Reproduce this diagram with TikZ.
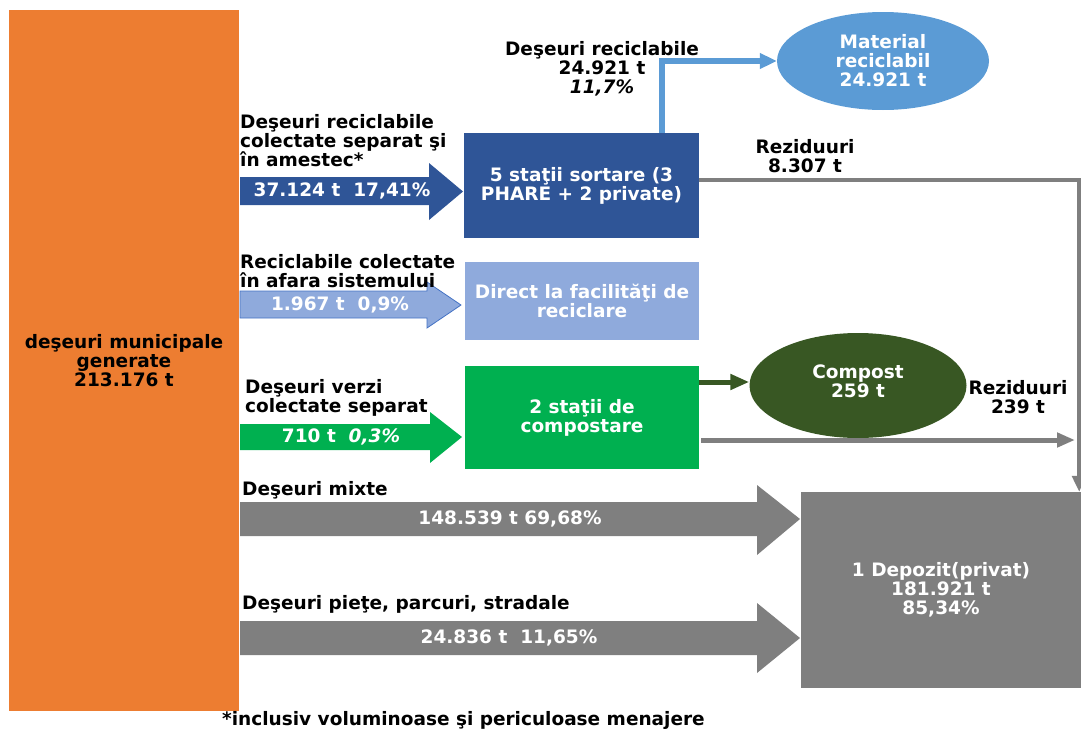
\documentclass[tikz,border=0pt]{standalone}
\usepackage{fontspec}
\setmainfont{DejaVu Sans}
\usetikzlibrary{arrows.meta,shapes.geometric}
\definecolor{corange}{HTML}{ED7D31}
\definecolor{cdblue}{HTML}{2F5597}
\definecolor{cltblue}{HTML}{5B9BD5}
\definecolor{cperi}{HTML}{8FAADC}
\definecolor{cperib}{HTML}{4472C4}
\definecolor{cgreen}{HTML}{00B050}
\definecolor{cdgreen}{HTML}{385723}
\definecolor{cgray}{HTML}{7F7F7F}
\begin{document}
\begin{tikzpicture}[x=1pt,y=-1pt,
  font=\bfseries\fontsize{18.5}{19}\selectfont,
  box/.style={inner sep=0pt, align=center, text=white},
  lbl/.style={inner sep=0pt, align=center, text=black},
  lbll/.style={inner sep=0pt, align=left, anchor=west, text=black},
  flow/.style={line width=5pt},
]
\useasboundingbox (0,0) rectangle (1081,731);
\clip (0,0) rectangle (1081,731);

% main blocks
\node[box, fill=corange, text=black, minimum width=230pt, minimum height=701pt] (gen) at (124,360.5) {deşeuri municipale\\generate\\213.176 t};
\node[box, fill=cdblue, minimum width=235pt, minimum height=105pt] (sort) at (581.5,185.5) {5 staţii sortare (3\\PHARE + 2 private)};
\node[box, fill=cperi, minimum width=234pt, minimum height=78pt] (direct) at (582,301) {Direct la facilităţi de\\reciclare};
\node[box, fill=cgreen, minimum width=234pt, minimum height=103pt] (cstat) at (582,417.5) {2 staţii de\\compostare};
\node[box, fill=cgray, minimum width=280pt, minimum height=196pt] (dep) at (941,590) {1 Depozit(privat)\\181.921 t\\85,34\%};
\node[box, ellipse, fill=cltblue, minimum width=212pt, minimum height=98pt] (mat) at (883,61) {Material\\reciclabil\\24.921 t};
\node[box, ellipse, fill=cdgreen, minimum width=217pt, minimum height=105pt] (comp) at (858,385.5) {};
\node[box] (comptxt) at (858,381.5) {Compost\\259 t};

% block arrows
\fill[cdblue] (240,177) -- (429,177) -- (429,163) -- (463,191.5) -- (429,220) -- (429,205) -- (240,205) -- cycle;
\node[box] (a1) at (342,191) {37.124 t\ \ 17,41\%};
\filldraw[fill=cperi, draw=cperib, line width=0.8pt] (240,291) -- (427,291) -- (427,282) -- (461,305) -- (427,328) -- (427,318) -- (240,318) -- cycle;
\node[box] (a2) at (340,305) {1.967 t\ \ 0,9\%};
\fill[cgreen] (240,424) -- (430,424) -- (430,412) -- (462,437) -- (430,463) -- (430,450) -- (240,450) -- cycle;
\node[box] (a3) at (341,437) {710 t\ \ \textit{0,3\%}};
\fill[cgray] (240,502) -- (757,502) -- (757,485) -- (800,519) -- (757,555) -- (757,536) -- (240,536) -- cycle;
\node[box] (a4) at (510,519) {148.539 t 69,68\%};
\fill[cgray] (240,621) -- (757,621) -- (757,603) -- (800,638) -- (757,673) -- (757,655) -- (240,655) -- cycle;
\node[box] (a5) at (509,638) {24.836 t\ \ 11,65\%};

% connectors
\coordinate (r2end) at (1075,440);
\draw[flow, line width=6pt, cltblue, -{Triangle[length=17pt,width=15pt]}] ([xshift=80.5pt]sort.north) |- (mat.west);
\draw[flow, line width=4.5pt, cgray, -{Triangle[length=16pt,width=14pt]}] ([yshift=5.5pt]sort.east) -| ([xshift=-2pt]dep.north east);
\draw[flow, cdgreen, -{Triangle[length=19pt,width=15pt]}] ([yshift=35.5pt]cstat.east) -- ([yshift=3.5pt]comp.west);
\draw[flow, cgray, -{Triangle[length=18pt,width=14pt]}] ([yshift=-22.5pt,xshift=2pt]cstat.east) -- (r2end);

% labels
\node[lbll] (l1) at (240,141) {Deşeuri reciclabile\\colectate separat şi\\în amestec*};
\node[lbl] (l2) at (602,69) {Deşeuri reciclabile\\24.921 t\\\textit{11,7\%}};
\node[lbl] (l3) at (805,156.5) {Reziduuri\\8.307 t};
\node[lbll] (l4) at (240,271) {Reciclabile colectate\\în afara sistemului};
\node[lbll] (l5) at (245,397.5) {Deşeuri verzi\\colectate separat};
\node[lbl] (l6) at (1018,397.5) {Reziduuri\\239 t};
\node[lbll] (l7) at (242,490) {Deşeuri mixte};
\node[lbll] (l8) at (242,604) {Deşeuri pieţe, parcuri, stradale};
\node[lbll] (foot) at (222,720) {*inclusiv voluminoase şi periculoase menajere};
\end{tikzpicture}
\end{document}
